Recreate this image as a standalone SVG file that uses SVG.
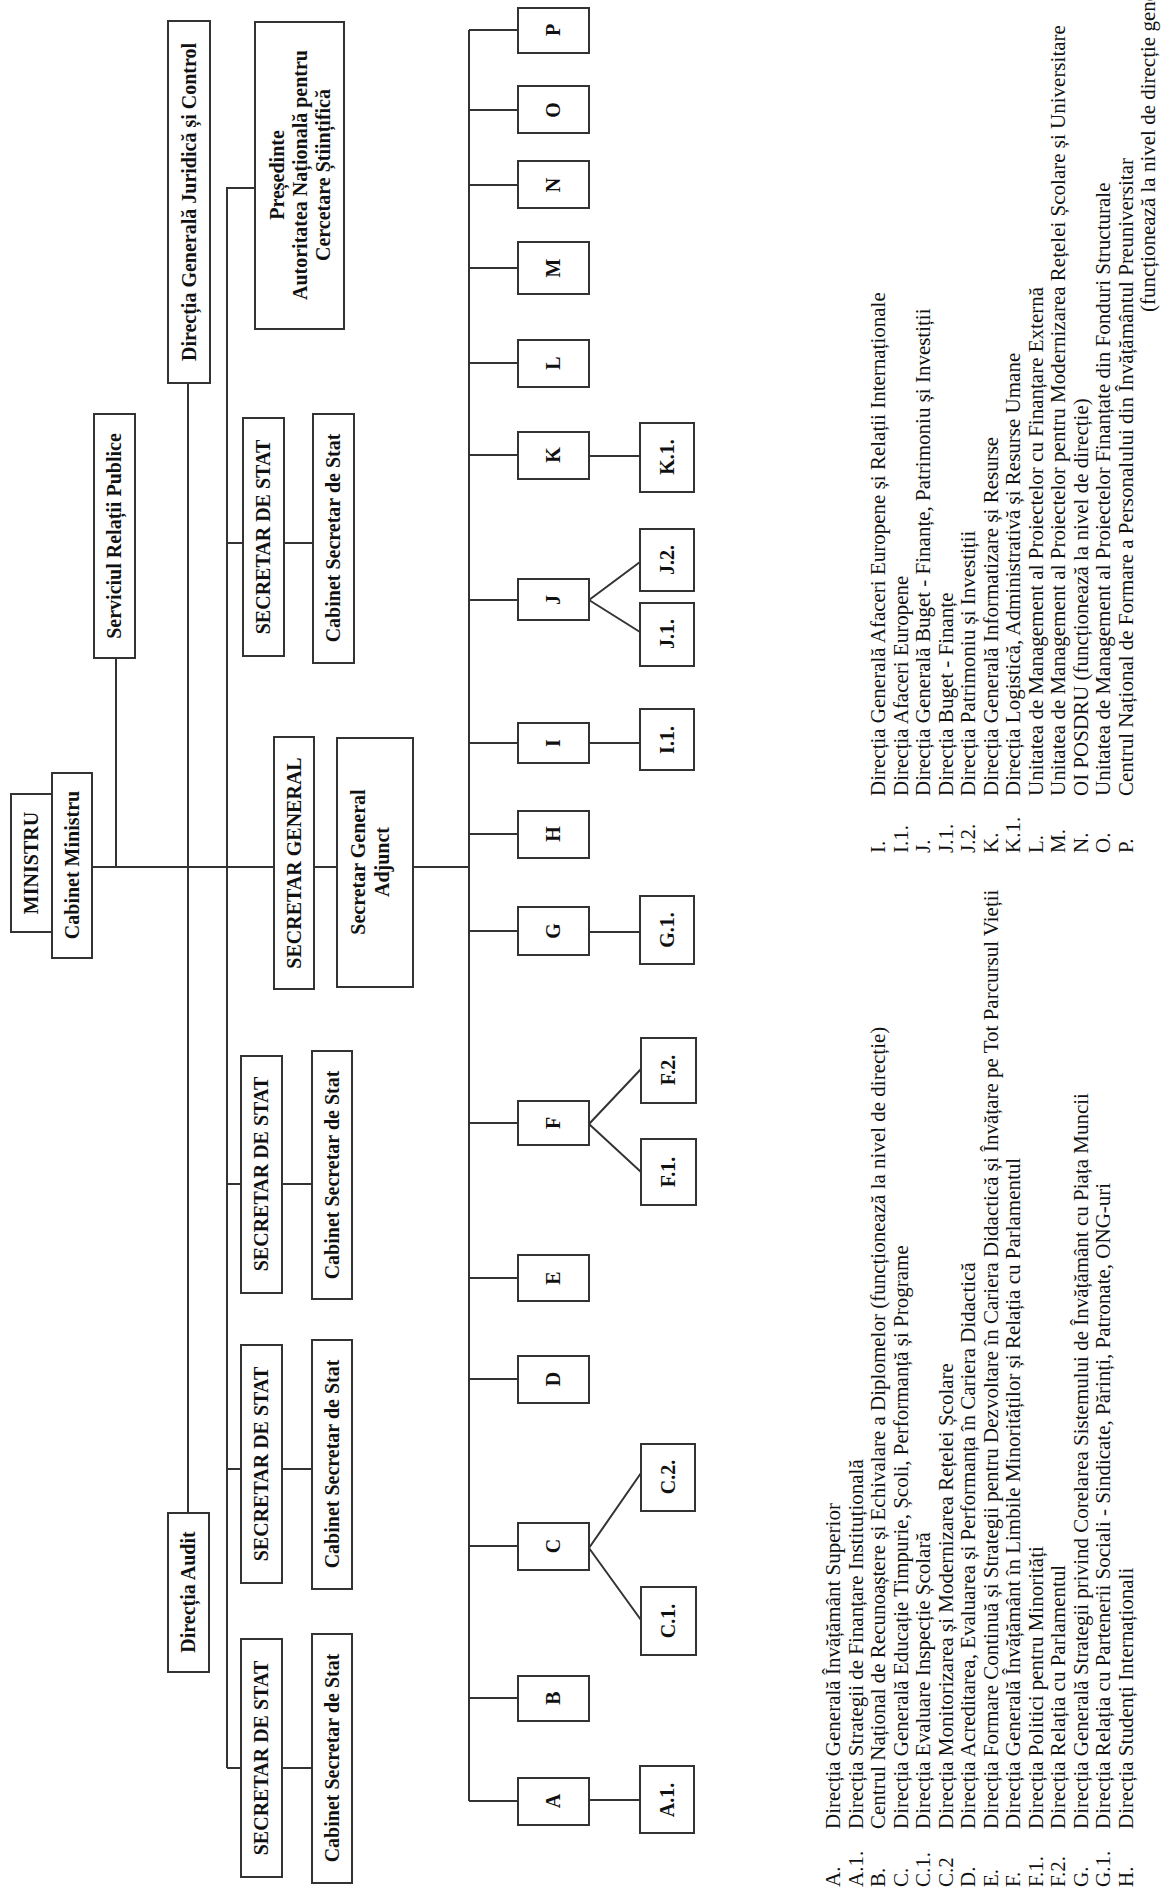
<svg xmlns="http://www.w3.org/2000/svg" width="1166" height="1892" viewBox="0 0 1166 1892">
<style>
.box{fill:#fff;stroke:#333;stroke-width:2}
.conn path{stroke:#333;stroke-width:2;fill:none}
.lbl{font-family:"Liberation Serif",serif;font-weight:bold;font-size:20px;text-anchor:middle;fill:#111}
.leg{font-family:"Liberation Serif",serif;font-size:21px;fill:#111}
</style>
<rect width="1166" height="1892" fill="#fff"/>
<g class="conn" id="connectors">
<path d="M116 658V867"/>
<path d="M92 867H274"/>
<path d="M314 867H337"/>
<path d="M413 867H469"/>
<path d="M188 383V1513"/>
<path d="M255 188H227V1768"/>
<path d="M227 543H243M284 543H313"/>
<path d="M227 1184H241M282 1184H312"/>
<path d="M227 1469H241M282 1469H312"/>
<path d="M227 1768H241M282 1768H312"/>
<path d="M469 30V1801"/>
<path d="M469 30H518M469 110H518M469 185H518M469 268H518M469 363H518M469 455H518M469 600H518M469 743H518M469 834H518M469 931H518M469 1123H518M469 1278H518M469 1379H518M469 1546H518M469 1698H518M469 1801H518"/>
<path d="M589 456H640M589 743H640M589 932H640M589 1800H640"/>
<path d="M589 600L640 562M589 600L640 632"/>
<path d="M589 1124L641 1069M589 1124L641 1172"/>
<path d="M589 1548L641 1473M589 1548L641 1620"/>
</g>
<g id="ministru"><rect class="box" x="11" y="794" width="41" height="138"/><text class="lbl" x="31" y="863" dy="0.35em" transform="rotate(-90 31 863)">MINISTRU</text></g>
<g id="cabinet-ministru"><rect class="box" x="52" y="773" width="40" height="185"/><text class="lbl" x="72" y="865" dy="0.35em" transform="rotate(-90 72 865)">Cabinet Ministru</text></g>
<g id="serviciul"><rect class="box" x="94" y="414" width="41" height="244"/><text class="lbl" x="114" y="536" dy="0.35em" transform="rotate(-90 114 536)">Serviciul Relații Publice</text></g>
<g id="juridica"><rect class="box" x="168" y="21" width="42" height="362"/><text class="lbl" x="189" y="202" dy="0.35em" transform="rotate(-90 189 202)">Direcția Generală Juridică și Control</text></g>
<g id="presedinte"><rect class="box" x="255" y="22" width="89" height="307"/>
<text class="lbl" x="277" y="175" dy="0.35em" transform="rotate(-90 277 175)">Președinte</text>
<text class="lbl" x="300" y="175" dy="0.35em" transform="rotate(-90 300 175)">Autoritatea Națională pentru</text>
<text class="lbl" x="323" y="175" dy="0.35em" transform="rotate(-90 323 175)">Cercetare Științifică</text></g>
<g id="audit"><rect class="box" x="168" y="1513" width="41" height="159"/><text class="lbl" x="188" y="1592" dy="0.35em" transform="rotate(-90 188 1592)">Direcția Audit</text></g>
<g id="secretar-general"><rect class="box" x="274" y="737" width="40" height="252"/><text class="lbl" x="294" y="863" dy="0.35em" transform="rotate(-90 294 863)">SECRETAR GENERAL</text></g>
<g id="secretar-general-adjunct"><rect class="box" x="337" y="738" width="76" height="249"/>
<text class="lbl" x="358" y="862" dy="0.35em" transform="rotate(-90 358 862)">Secretar General</text>
<text class="lbl" x="382" y="862" dy="0.35em" transform="rotate(-90 382 862)">Adjunct</text></g>
<g id="sds1"><rect class="box" x="243" y="418" width="41" height="238"/><text class="lbl" x="263" y="537" dy="0.35em" transform="rotate(-90 263 537)">SECRETAR DE STAT</text></g>
<g id="cab1"><rect class="box" x="313" y="414" width="41" height="249"/><text class="lbl" x="333" y="538" dy="0.35em" transform="rotate(-90 333 538)">Cabinet Secretar de Stat</text></g>
<g id="sds2"><rect class="box" x="241" y="1056" width="41" height="237"/><text class="lbl" x="261" y="1174" dy="0.35em" transform="rotate(-90 261 1174)">SECRETAR DE STAT</text></g>
<g id="cab2"><rect class="box" x="312" y="1051" width="40" height="248"/><text class="lbl" x="332" y="1175" dy="0.35em" transform="rotate(-90 332 1175)">Cabinet Secretar de Stat</text></g>
<g id="sds3"><rect class="box" x="241" y="1345" width="41" height="238"/><text class="lbl" x="261" y="1464" dy="0.35em" transform="rotate(-90 261 1464)">SECRETAR DE STAT</text></g>
<g id="cab3"><rect class="box" x="312" y="1340" width="40" height="249"/><text class="lbl" x="332" y="1464" dy="0.35em" transform="rotate(-90 332 1464)">Cabinet Secretar de Stat</text></g>
<g id="sds4"><rect class="box" x="241" y="1639" width="41" height="238"/><text class="lbl" x="261" y="1758" dy="0.35em" transform="rotate(-90 261 1758)">SECRETAR DE STAT</text></g>
<g id="cab4"><rect class="box" x="312" y="1634" width="40" height="249"/><text class="lbl" x="332" y="1758" dy="0.35em" transform="rotate(-90 332 1758)">Cabinet Secretar de Stat</text></g>
<g id="P"><rect class="box" x="518" y="8" width="71" height="45"/><text class="lbl" x="553" y="30" dy="0.35em" transform="rotate(-90 553 30)">P</text></g>
<g id="O"><rect class="box" x="518" y="86" width="71" height="47"/><text class="lbl" x="553" y="110" dy="0.35em" transform="rotate(-90 553 110)">O</text></g>
<g id="N"><rect class="box" x="518" y="161" width="71" height="47"/><text class="lbl" x="553" y="185" dy="0.35em" transform="rotate(-90 553 185)">N</text></g>
<g id="M"><rect class="box" x="518" y="242" width="71" height="52"/><text class="lbl" x="553" y="268" dy="0.35em" transform="rotate(-90 553 268)">M</text></g>
<g id="L"><rect class="box" x="518" y="340" width="71" height="47"/><text class="lbl" x="553" y="363" dy="0.35em" transform="rotate(-90 553 363)">L</text></g>
<g id="K"><rect class="box" x="518" y="432" width="71" height="47"/><text class="lbl" x="553" y="455" dy="0.35em" transform="rotate(-90 553 455)">K</text></g>
<g id="K1"><rect class="box" x="640" y="423" width="54" height="69"/><text class="lbl" x="667" y="457" dy="0.35em" transform="rotate(-90 667 457)">K.1.</text></g>
<g id="J"><rect class="box" x="518" y="579" width="71" height="41"/><text class="lbl" x="553" y="600" dy="0.35em" transform="rotate(-90 553 600)">J</text></g>
<g id="J2"><rect class="box" x="640" y="529" width="54" height="62"/><text class="lbl" x="667" y="560" dy="0.35em" transform="rotate(-90 667 560)">J.2.</text></g>
<g id="J1"><rect class="box" x="640" y="603" width="54" height="63"/><text class="lbl" x="667" y="634" dy="0.35em" transform="rotate(-90 667 634)">J.1.</text></g>
<g id="I"><rect class="box" x="518" y="723" width="71" height="40"/><text class="lbl" x="553" y="743" dy="0.35em" transform="rotate(-90 553 743)">I</text></g>
<g id="I1"><rect class="box" x="640" y="709" width="54" height="61"/><text class="lbl" x="667" y="740" dy="0.35em" transform="rotate(-90 667 740)">I.1.</text></g>
<g id="H"><rect class="box" x="518" y="811" width="71" height="47"/><text class="lbl" x="553" y="834" dy="0.35em" transform="rotate(-90 553 834)">H</text></g>
<g id="G"><rect class="box" x="518" y="907" width="71" height="48"/><text class="lbl" x="553" y="931" dy="0.35em" transform="rotate(-90 553 931)">G</text></g>
<g id="G1"><rect class="box" x="640" y="896" width="54" height="68"/><text class="lbl" x="667" y="930" dy="0.35em" transform="rotate(-90 667 930)">G.1.</text></g>
<g id="F"><rect class="box" x="518" y="1101" width="71" height="44"/><text class="lbl" x="553" y="1123" dy="0.35em" transform="rotate(-90 553 1123)">F</text></g>
<g id="F2"><rect class="box" x="641" y="1038" width="55" height="65"/><text class="lbl" x="668" y="1070" dy="0.35em" transform="rotate(-90 668 1070)">F.2.</text></g>
<g id="F1"><rect class="box" x="641" y="1139" width="55" height="66"/><text class="lbl" x="668" y="1172" dy="0.35em" transform="rotate(-90 668 1172)">F.1.</text></g>
<g id="E"><rect class="box" x="518" y="1255" width="71" height="46"/><text class="lbl" x="553" y="1278" dy="0.35em" transform="rotate(-90 553 1278)">E</text></g>
<g id="D"><rect class="box" x="518" y="1356" width="71" height="47"/><text class="lbl" x="553" y="1379" dy="0.35em" transform="rotate(-90 553 1379)">D</text></g>
<g id="C"><rect class="box" x="518" y="1523" width="71" height="47"/><text class="lbl" x="553" y="1546" dy="0.35em" transform="rotate(-90 553 1546)">C</text></g>
<g id="C2"><rect class="box" x="641" y="1444" width="54" height="67"/><text class="lbl" x="668" y="1477" dy="0.35em" transform="rotate(-90 668 1477)">C.2.</text></g>
<g id="C1"><rect class="box" x="641" y="1587" width="55" height="68"/><text class="lbl" x="668" y="1621" dy="0.35em" transform="rotate(-90 668 1621)">C.1.</text></g>
<g id="B"><rect class="box" x="518" y="1676" width="71" height="45"/><text class="lbl" x="553" y="1698" dy="0.35em" transform="rotate(-90 553 1698)">B</text></g>
<g id="A"><rect class="box" x="518" y="1778" width="71" height="47"/><text class="lbl" x="553" y="1801" dy="0.35em" transform="rotate(-90 553 1801)">A</text></g>
<g id="A1"><rect class="box" x="640" y="1766" width="54" height="67"/><text class="lbl" x="667" y="1800" dy="0.35em" transform="rotate(-90 667 1800)">A.1.</text></g>
<g id="legend" class="leg" transform="translate(0 1892) rotate(-90)">
<text x="5" y="840">A.</text><text x="63" y="840">Direcția Generală Învățământ Superior</text>
<text x="5" y="862.5">A.1.</text><text x="63" y="862.5">Direcția Strategii de Finanțare Instituțională</text>
<text x="5" y="885">B.</text><text x="63" y="885">Centrul Național de Recunoaștere și Echivalare a Diplomelor (funcționează la nivel de direcție)</text>
<text x="5" y="907.5">C.</text><text x="63" y="907.5">Direcția Generală Educație Timpurie, Școli, Performanță și Programe</text>
<text x="5" y="930">C.1.</text><text x="63" y="930">Direcția Evaluare Inspecție Școlară</text>
<text x="5" y="952.5">C.2</text><text x="63" y="952.5">Direcția Monitorizarea și Modernizarea Rețelei Școlare</text>
<text x="5" y="975">D.</text><text x="63" y="975">Direcția Acreditarea, Evaluarea și Performanța în Cariera Didactică</text>
<text x="5" y="997.5">E.</text><text x="63" y="997.5">Direcția Formare Continuă și Strategii pentru Dezvoltare în Cariera Didactică și Învățare pe Tot Parcursul Vieții</text>
<text x="5" y="1020">F.</text><text x="63" y="1020">Direcția Generală Învățământ în Limbile Minorităților și Relația cu Parlamentul</text>
<text x="5" y="1042.5">F.1.</text><text x="63" y="1042.5">Direcția Politici pentru Minorități</text>
<text x="5" y="1065">F.2.</text><text x="63" y="1065">Direcția Relația cu Parlamentul</text>
<text x="5" y="1087.5">G.</text><text x="63" y="1087.5">Direcția Generală Strategii privind Corelarea Sistemului de Învățământ cu Piața Muncii</text>
<text x="5" y="1110">G.1.</text><text x="63" y="1110">Direcția Relația cu Partenerii Sociali - Sindicate, Părinți, Patronate, ONG-uri</text>
<text x="5" y="1132.5">H.</text><text x="63" y="1132.5">Direcția Studenți Internaționali</text>
<text x="1039" y="885">I.</text><text x="1096" y="885">Direcția Generală Afaceri Europene și Relații Internaționale</text>
<text x="1039" y="907.5">I.1.</text><text x="1096" y="907.5">Direcția Afaceri Europene</text>
<text x="1039" y="930">J.</text><text x="1096" y="930">Direcția Generală Buget - Finanțe, Patrimoniu și Investiții</text>
<text x="1039" y="952.5">J.1.</text><text x="1096" y="952.5">Direcția Buget - Finanțe</text>
<text x="1039" y="975">J.2.</text><text x="1096" y="975">Direcția Patrimoniu și Investiții</text>
<text x="1039" y="997.5">K.</text><text x="1096" y="997.5">Direcția Generală Informatizare și Resurse</text>
<text x="1039" y="1020">K.1.</text><text x="1096" y="1020">Direcția Logistică, Administrativă și Resurse Umane</text>
<text x="1039" y="1042.5">L.</text><text x="1096" y="1042.5">Unitatea de Management al Proiectelor cu Finanțare Externă</text>
<text x="1039" y="1065">M.</text><text x="1096" y="1065">Unitatea de Management al Proiectelor pentru Modernizarea Rețelei Școlare și Universitare</text>
<text x="1039" y="1087.5">N.</text><text x="1096" y="1087.5">OI POSDRU (funcționează la nivel de direcție)</text>
<text x="1039" y="1110">O.</text><text x="1096" y="1110">Unitatea de Management al Proiectelor Finanțate din Fonduri Structurale</text>
<text x="1039" y="1132.5">P.</text><text x="1096" y="1132.5">Centrul Național de Formare a Personalului din Învățământul Preuniversitar</text>
<text x="1580" y="1155">(funcționează la nivel de direcție generală)</text>
</g>
</svg>
